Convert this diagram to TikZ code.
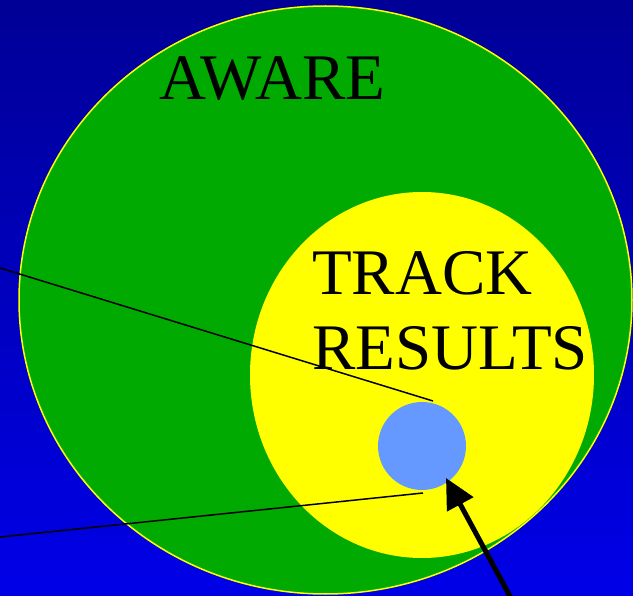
\documentclass[tikz,border=0pt]{standalone}
\usepackage{fontspec}
\setmainfont{Liberation Serif}
\usetikzlibrary{shapes.geometric,arrows.meta}
\definecolor{bgtop}{RGB}{0,0,150}
\definecolor{bgbot}{RGB}{0,0,232}
\definecolor{awgreen}{RGB}{0,170,0}
\definecolor{trkyellow}{RGB}{255,255,0}
\definecolor{objblue}{RGB}{102,153,255}
\tikzset{
  bigtext/.style={anchor=base west, inner sep=0pt, font=\fontsize{65}{75}\selectfont},
  thinline/.style={draw=black, line width=1.5pt},
  bigarrow/.style={draw=black, line width=5pt, -{Triangle[length=30pt,width=29pt]}},
}
\begin{document}
\begin{tikzpicture}[x=1pt,y=-1pt]
\shade[top color=bgtop, bottom color=bgbot] (0,0) rectangle (633,596);
\useasboundingbox (0,0) rectangle (633,596);
\node[ellipse, fill=awgreen, draw=trkyellow, line width=1.5pt, minimum width=613pt, minimum height=588pt, inner sep=0pt] (aware) at (325.5,300) {};
\node[ellipse, fill=trkyellow, minimum width=344pt, minimum height=366pt, inner sep=0pt] (track) at (422,375) {};
\node[circle, fill=objblue, minimum size=88pt, inner sep=0pt] (obj) at (422,446) {};
\node[bigtext] (awaretxt) at (159,100) {AWARE};
\node[bigtext] (tracktxt) at (312,295) {TRACK};
\node[bigtext] (resultstxt) at (312,370) {RESULTS};
\coordinate (l1s) at (0,268);
\coordinate (l1e) at (433,401);
\coordinate (l2s) at (0,537);
\coordinate (l2e) at (423,493);
\coordinate (atail) at (512,600);
\coordinate (atip) at (446,478);
\draw[thinline] (l1s) -- (l1e);
\draw[thinline] (l2s) -- (l2e);
\draw[bigarrow] (atail) -- (atip);
\end{tikzpicture}
\end{document}
